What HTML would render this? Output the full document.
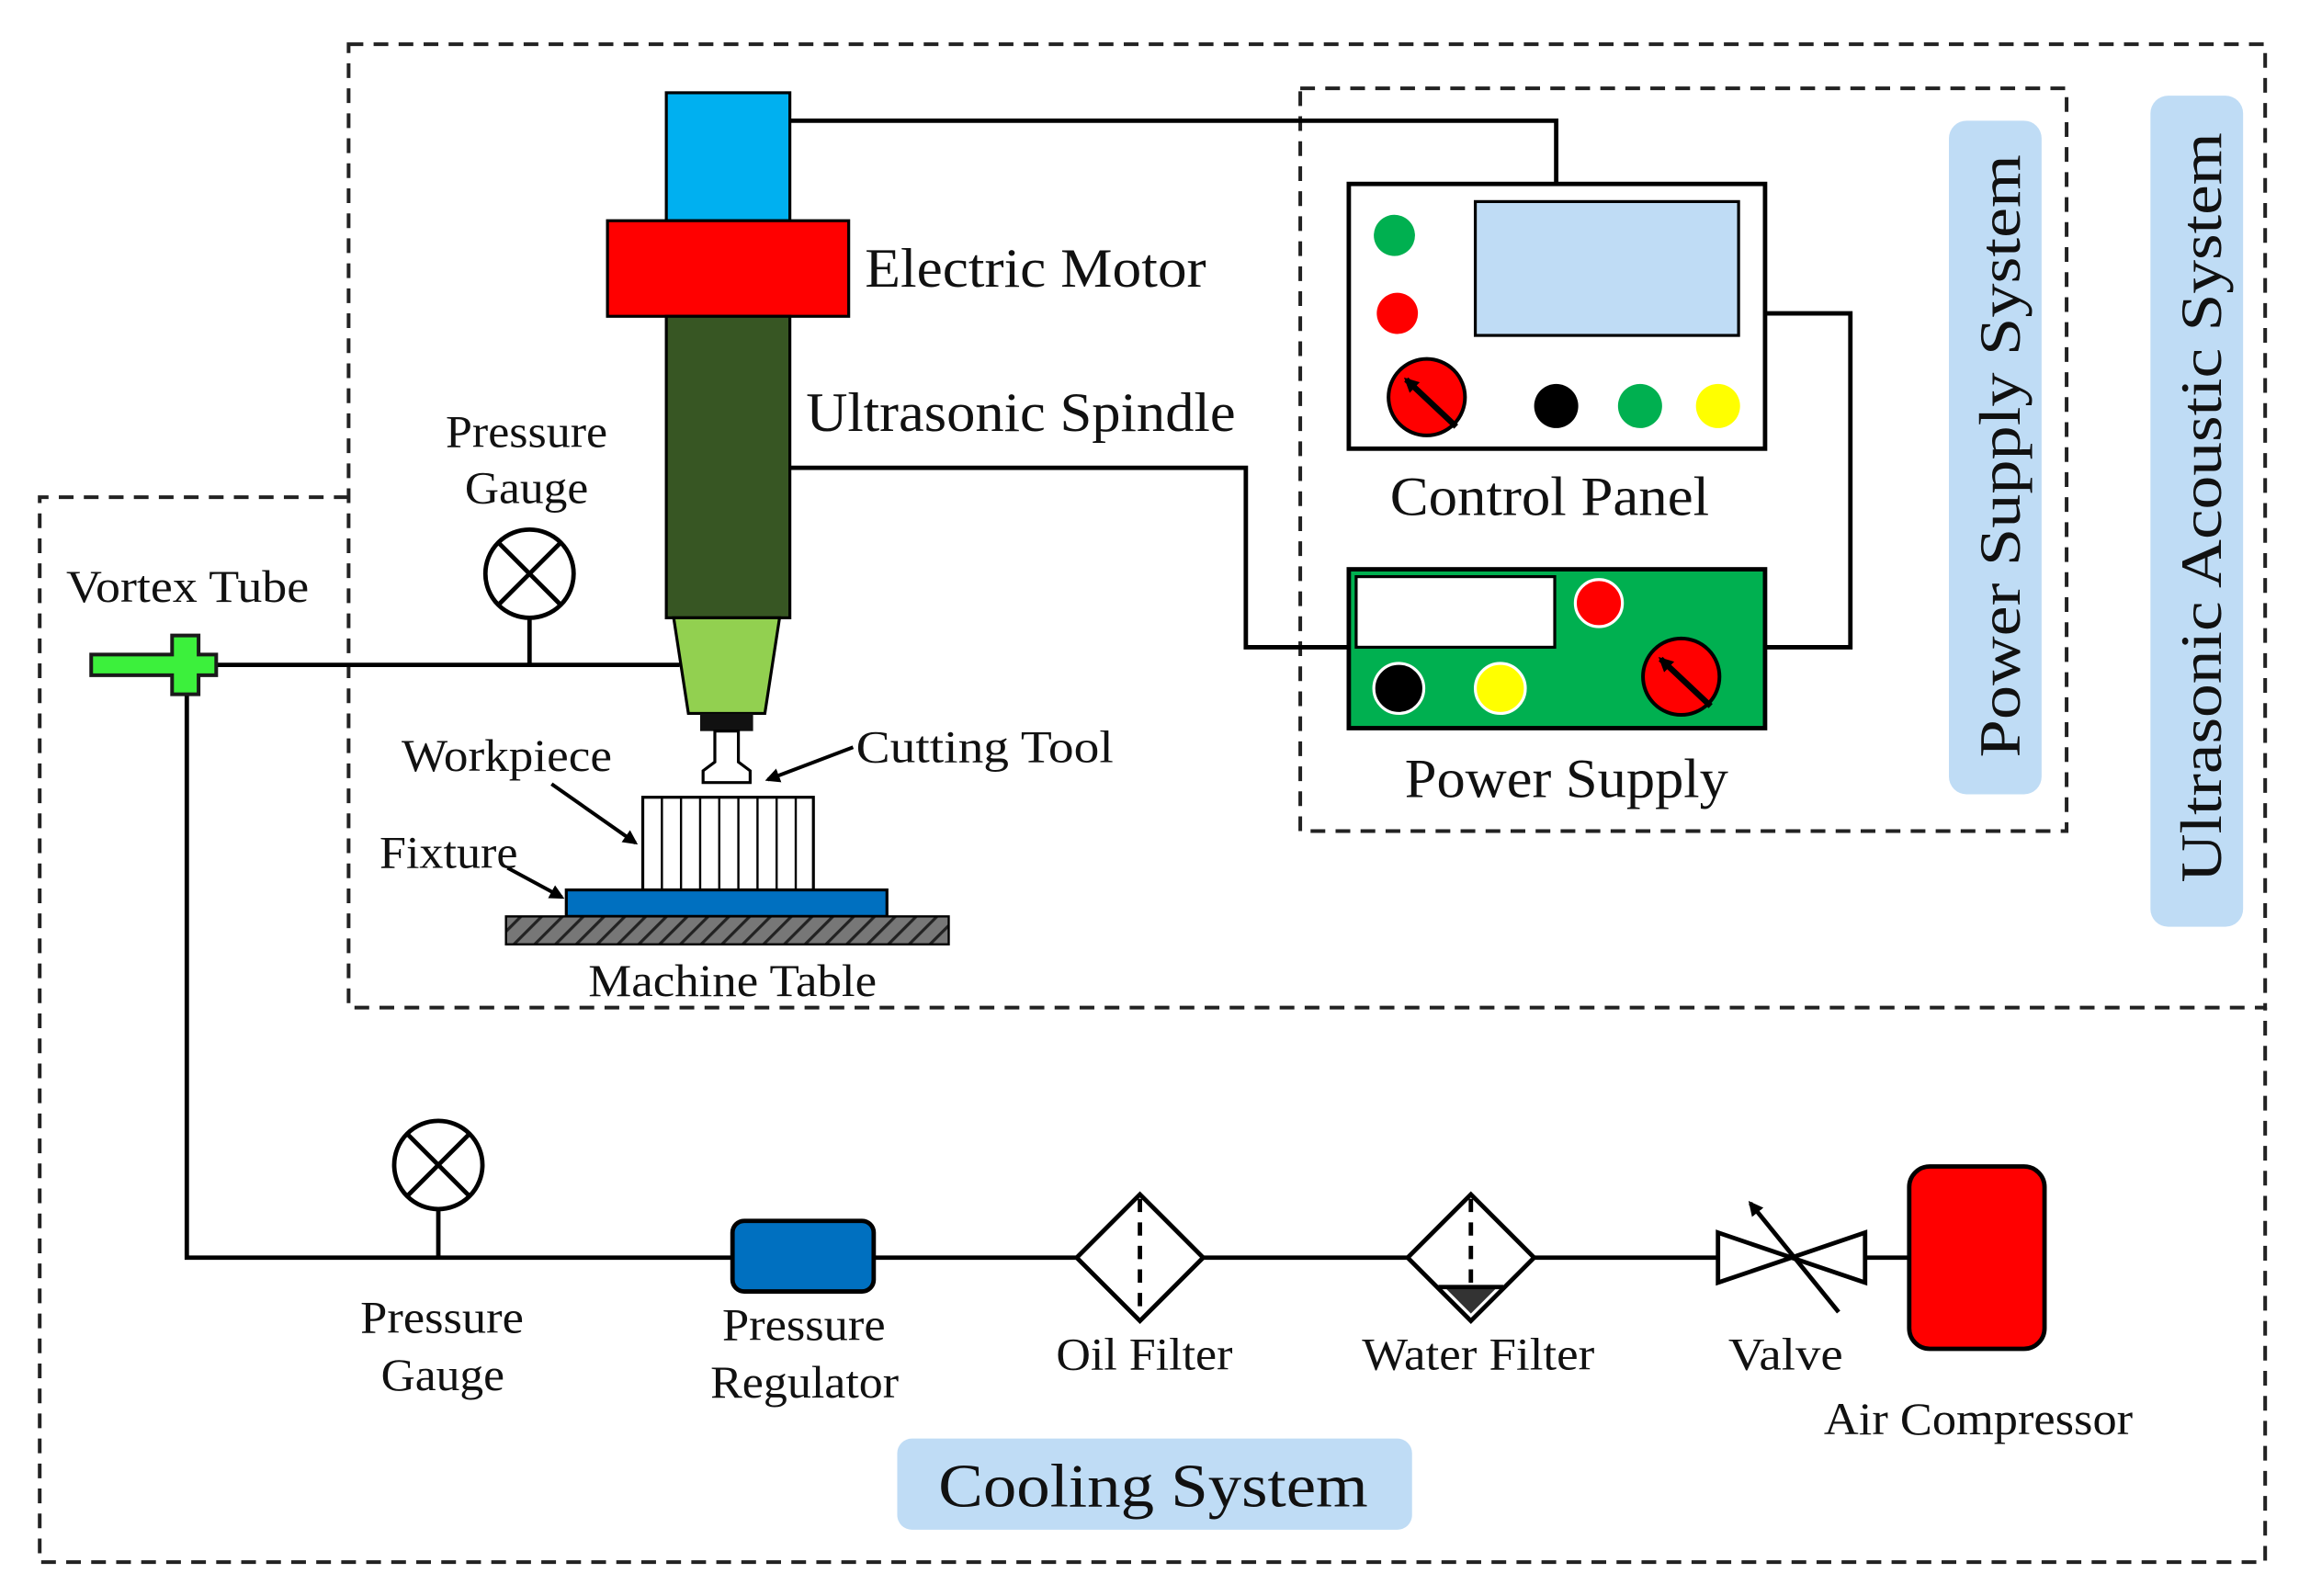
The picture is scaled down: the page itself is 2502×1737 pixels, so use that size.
<!DOCTYPE html>
<html><head><meta charset="utf-8"><style>
html,body{margin:0;padding:0;background:#fff}
svg{display:block}
text{font-family:"Liberation Serif",serif;fill:#111}
</style></head><body>
<svg width="2502" height="1737" viewBox="0 0 1563 1085" xmlns="http://www.w3.org/2000/svg">
<defs>
<pattern id="hatch" width="10" height="10" patternUnits="userSpaceOnUse" patternTransform="rotate(45)">
<rect width="10" height="10" fill="#777"/><line x1="0" y1="0" x2="0" y2="10" stroke="#222" stroke-width="4"/>
</pattern>
<marker id="ah" markerWidth="10" markerHeight="10" refX="8" refY="5" orient="auto" markerUnits="userSpaceOnUse">
<path d="M0,0 L10,5 L0,10 z" fill="#000"/></marker>
</defs>
<g fill="none" stroke="#222" stroke-width="2.5" stroke-dasharray="10,7">
<rect x="237" y="30" width="1303" height="655"/>
<rect x="884" y="60" width="521" height="505"/>
<path d="M237,338 L27,338 L27,1062 L1540,1062 L1540,685"/>
</g>
<rect x="1325" y="82" width="63" height="458" rx="12" fill="#bfdcf5"/>
<text transform="translate(1373,310) rotate(-90)" font-size="40" text-anchor="middle" textLength="410" lengthAdjust="spacingAndGlyphs">Power Supply System</text>
<rect x="1462" y="65" width="63" height="565" rx="12" fill="#bfdcf5"/>
<text transform="translate(1510,345) rotate(-90)" font-size="40" text-anchor="middle" textLength="510" lengthAdjust="spacingAndGlyphs">Ultrasonic Acoustic System</text>
<rect x="610" y="978" width="350" height="62" rx="10" fill="#bfdcf5"/>
<text x="784" y="1024" font-size="42" text-anchor="middle" textLength="292" lengthAdjust="spacingAndGlyphs">Cooling System</text>
<g fill="none" stroke="#000" stroke-width="3">
<path d="M537,82 L1058,82 L1058,125"/>
<path d="M537,318 L847,318 L847,440 L917,440"/>
<path d="M1200,213 L1258,213 L1258,440 L1200,440"/>
<path d="M145,452 L462,452"/>
<path d="M360,420 L360,452"/>
<path d="M127,470 L127,855 L1168,855"/>
<path d="M298,822 L298,855"/>
<path d="M1268,855 L1298,855"/>
</g>
<rect x="453" y="63" width="84" height="87" fill="#00b0f0" stroke="#000" stroke-width="2"/>
<rect x="413" y="150" width="164" height="65" fill="#f00" stroke="#000" stroke-width="2"/>
<rect x="453" y="215" width="84" height="205" fill="#375623" stroke="#000" stroke-width="2"/>
<path d="M458,420 L530,420 L520,485 L468,485 Z" fill="#92d050" stroke="#000" stroke-width="2"/>
<rect x="476" y="485" width="36" height="12" fill="#111"/>
<path d="M486,497 L502,497 L502,518 L510,524 L510,532 L478,532 L478,524 L486,518 Z" fill="#fff" stroke="#000" stroke-width="2"/>
<rect x="437" y="542" width="116" height="63" fill="#fff" stroke="#000" stroke-width="2"/>
<g stroke="#000" stroke-width="1.5">
<line x1="450" y1="542" x2="450" y2="605"/><line x1="463" y1="542" x2="463" y2="605"/><line x1="476" y1="542" x2="476" y2="605"/><line x1="489" y1="542" x2="489" y2="605"/><line x1="502" y1="542" x2="502" y2="605"/><line x1="515" y1="542" x2="515" y2="605"/><line x1="528" y1="542" x2="528" y2="605"/><line x1="541" y1="542" x2="541" y2="605"/>
</g>
<rect x="385" y="605" width="218" height="18" fill="#0070c0" stroke="#000" stroke-width="2"/>
<rect x="344" y="623" width="301" height="19" fill="url(#hatch)" stroke="#000" stroke-width="1.5"/>
<g stroke="#000" stroke-width="2.5">
<line x1="580" y1="508" x2="522" y2="530" marker-end="url(#ah)"/>
<line x1="375" y1="533" x2="432" y2="573" marker-end="url(#ah)"/>
<line x1="345" y1="590" x2="382" y2="610" marker-end="url(#ah)"/>
</g>
<rect x="917" y="125" width="283" height="180" fill="#fff" stroke="#000" stroke-width="3"/>
<rect x="1003" y="137" width="179" height="91" fill="#bfdcf5" stroke="#000" stroke-width="2"/>
<circle cx="948" cy="160" r="14" fill="#00b050"/>
<circle cx="950" cy="213" r="14" fill="#f00"/>
<circle cx="970" cy="270" r="26" fill="#f00" stroke="#000" stroke-width="2.5"/>
<line x1="990" y1="290" x2="956" y2="258" stroke="#000" stroke-width="4" marker-end="url(#ah)"/>
<circle cx="1058" cy="276" r="15" fill="#000"/>
<circle cx="1115" cy="276" r="15" fill="#00b050"/>
<circle cx="1168" cy="276" r="15" fill="#ff0"/>
<rect x="917" y="387" width="283" height="108" fill="#00b050" stroke="#000" stroke-width="3"/>
<rect x="922" y="392" width="135" height="48" fill="#fff" stroke="#000" stroke-width="2"/>
<circle cx="1087" cy="410" r="16" fill="#f00" stroke="#fff" stroke-width="2"/>
<circle cx="1143" cy="460" r="26" fill="#f00" stroke="#000" stroke-width="2.5"/>
<line x1="1163" y1="480" x2="1129" y2="448" stroke="#000" stroke-width="4" marker-end="url(#ah)"/>
<circle cx="951" cy="468" r="17" fill="#000" stroke="#fff" stroke-width="2"/>
<circle cx="1020" cy="468" r="17" fill="#ff0" stroke="#fff" stroke-width="2"/>
<g fill="#fff" stroke="#000" stroke-width="3">
<circle cx="360" cy="390" r="30"/>
<line x1="339" y1="369" x2="381" y2="411"/><line x1="381" y1="369" x2="339" y2="411"/>
<circle cx="298" cy="792" r="30"/>
<line x1="277" y1="771" x2="319" y2="813"/><line x1="319" y1="771" x2="277" y2="813"/>
</g>
<path d="M62,445 L117,445 L117,432 L135,432 L135,445 L147,445 L147,459 L135,459 L135,472 L117,472 L117,459 L62,459 Z" fill="#3cf03c" stroke="#1a1a1a" stroke-width="2.5"/>
<rect x="498" y="830" width="96" height="48" rx="8" fill="#0070c0" stroke="#000" stroke-width="3"/>
<path d="M775,812 L818,855 L775,898 L732,855 Z" fill="#fff" stroke="#000" stroke-width="3"/>
<line x1="775" y1="815" x2="775" y2="895" stroke="#000" stroke-width="3" stroke-dasharray="9,7"/>
<path d="M1000,812 L1043,855 L1000,898 L957,855 Z" fill="#fff" stroke="#000" stroke-width="3"/>
<line x1="1000" y1="815" x2="1000" y2="875" stroke="#000" stroke-width="3" stroke-dasharray="9,7"/>
<path d="M982,875 L1018,875 L1000,893 Z" fill="#333"/>
<line x1="978" y1="875" x2="1022" y2="875" stroke="#000" stroke-width="3"/>
<path d="M1168,838 L1268,872 L1268,838 L1168,872 Z" fill="#fff" stroke="#000" stroke-width="3"/>
<line x1="1250" y1="892" x2="1190" y2="818" stroke="#000" stroke-width="3" marker-end="url(#ah)"/>
<rect x="1298" y="793" width="92" height="124" rx="14" fill="#f00" stroke="#000" stroke-width="3"/>
<g font-size="38" lengthAdjust="spacingAndGlyphs">
<text x="588" y="195" textLength="232" lengthAdjust="spacingAndGlyphs">Electric Motor</text>
<text x="548" y="293" textLength="292" lengthAdjust="spacingAndGlyphs">Ultrasonic Spindle</text>
<text x="945" y="350" textLength="217" lengthAdjust="spacingAndGlyphs">Control Panel</text>
<text x="955" y="542" textLength="220" lengthAdjust="spacingAndGlyphs">Power Supply</text>
</g>
<g font-size="31">
<text x="582" y="518" textLength="175" lengthAdjust="spacingAndGlyphs">Cutting Tool</text>
<text x="273" y="524" textLength="143" lengthAdjust="spacingAndGlyphs">Workpiece</text>
<text x="258" y="590" textLength="94" lengthAdjust="spacingAndGlyphs">Fixture</text>
<text x="400" y="677" textLength="196" lengthAdjust="spacingAndGlyphs">Machine Table</text>
<text x="45" y="409" textLength="165" lengthAdjust="spacingAndGlyphs">Vortex Tube</text>
<text x="303" y="304" textLength="110" lengthAdjust="spacingAndGlyphs">Pressure</text>
<text x="316" y="342" textLength="84" lengthAdjust="spacingAndGlyphs">Gauge</text>
<text x="245" y="906" textLength="111" lengthAdjust="spacingAndGlyphs">Pressure</text>
<text x="259" y="945" textLength="84" lengthAdjust="spacingAndGlyphs">Gauge</text>
<text x="491" y="911" textLength="111" lengthAdjust="spacingAndGlyphs">Pressure</text>
<text x="483" y="950" textLength="128" lengthAdjust="spacingAndGlyphs">Regulator</text>
<text x="718" y="931" textLength="120" lengthAdjust="spacingAndGlyphs">Oil Filter</text>
<text x="926" y="931" textLength="158" lengthAdjust="spacingAndGlyphs">Water Filter</text>
<text x="1175" y="931" textLength="78" lengthAdjust="spacingAndGlyphs">Valve</text>
<text x="1240" y="975" textLength="210" lengthAdjust="spacingAndGlyphs">Air Compressor</text>
</g>
</svg>
</body></html>
